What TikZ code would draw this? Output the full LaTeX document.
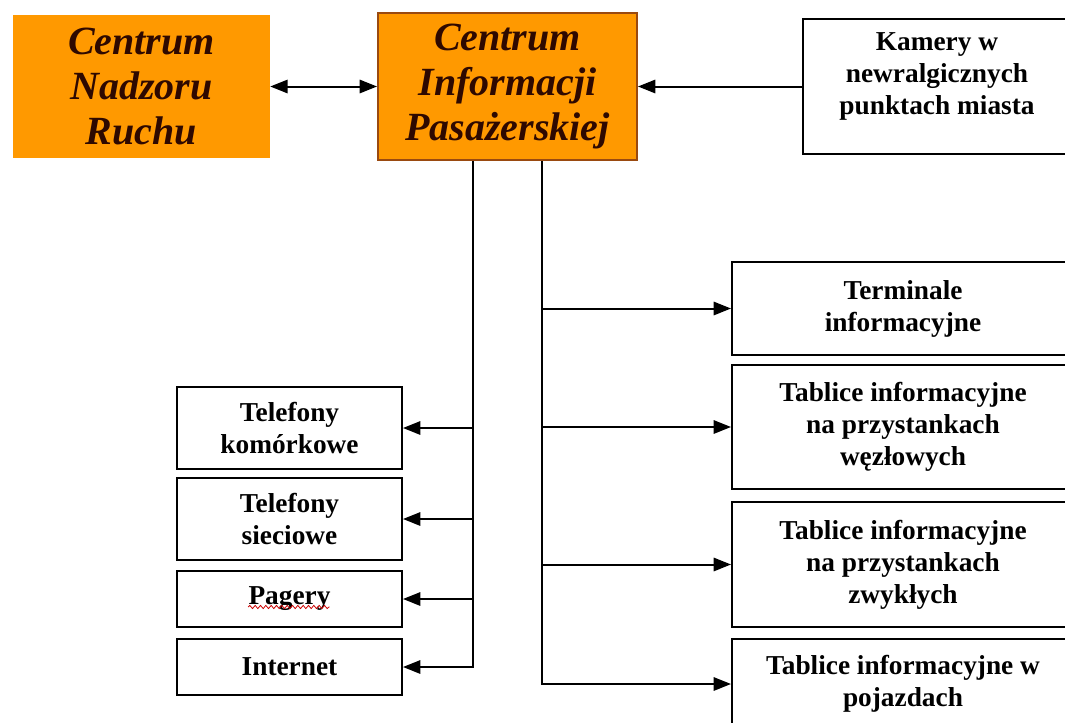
\documentclass[tikz,border=0pt]{standalone}
\usepackage{fontspec}
\setmainfont{Liberation Serif}
\usetikzlibrary{arrows.meta,decorations.pathmorphing}
\definecolor{boxorange}{HTML}{FF9900}
\definecolor{cipborder}{HTML}{9A4A10}
\definecolor{toptext}{HTML}{2E0900}
\tikzset{
  topbox/.style={rectangle, fill=boxorange, align=center, inner sep=0pt,
    font=\fontsize{30}{33.5}\selectfont\bfseries\itshape, text=toptext},
  plainbox/.style={rectangle, draw=black, line width=1.5pt, fill=white, align=center, inner sep=0pt,
    font=\fontsize{20.5}{24}\selectfont\bfseries, text=black},
  conn/.style={line width=1.5pt, draw=black},
  tip/.style={-{Triangle[length=13pt,width=10pt]}},
}
\begin{document}
\begin{tikzpicture}[x=0.75pt,y=-0.75pt]
\useasboundingbox (0,0) rectangle (1065,722);
\fill[white] (0,0) rectangle (1065,722);
\begin{scope}
\clip (0,0) rectangle (1065,722);
% top row
\node[topbox, minimum width=192.75pt, minimum height=107.25pt] (CNR) at (141.5,86.5) {Centrum\\Nadzoru\\Ruchu};
\node[topbox, draw=cipborder, line width=1.5pt, minimum width=194.25pt, minimum height=110.25pt] (CIP) at (507.5,86.5) {Centrum\\Informacji\\Pasażerskiej};
\node[plainbox, minimum width=201pt, minimum height=101.25pt] (KAM) at (937,86.5) {Kamery w\\newralgicznych\\punktach miasta\\[-4pt]\mbox{}};
% left column
\node[plainbox, minimum width=168.75pt, minimum height=61.5pt] (TK) at (289.5,428) {Telefony\\komórkowe};
\node[plainbox, minimum width=168.75pt, minimum height=61.5pt] (TS) at (289.5,519) {Telefony\\sieciowe};
\node[plainbox, minimum width=168.75pt, minimum height=42pt] (PG) at (289.5,599) {Pagery};
\node[plainbox, minimum width=168.75pt, minimum height=42pt] (IN) at (289.5,667) {Internet};
% right column
\node[plainbox, minimum width=256.5pt, minimum height=69.75pt] (TI) at (903,308.5) {Terminale\\informacyjne};
\node[plainbox, minimum width=256.5pt, minimum height=93pt] (TW) at (903,427) {Tablice informacyjne\\na przystankach\\węzłowych};
\node[plainbox, minimum width=256.5pt, minimum height=93.75pt] (TZ) at (903,564.5) {Tablice informacyjne\\na przystankach\\zwykłych};
\node[plainbox, minimum width=256.5pt, minimum height=67.5pt] (TP) at (903,684) {Tablice informacyjne w\\pojazdach};
% trunk coordinates
\coordinate (L) at (473,667);
\coordinate (R) at (542,684);
% connectors
\draw[conn, {Triangle[length=13pt,width=10pt]}-{Triangle[length=13pt,width=10pt]}] (CNR.east) -- (CIP.west);
\draw[conn, tip] (KAM.west) -- (CIP.east);
\draw[conn, tip] (CIP.south -| L) |- (IN.east);
\draw[conn, tip] (TK.east -| L) -- (TK.east);
\draw[conn, tip] (TS.east -| L) -- (TS.east);
\draw[conn, tip] (PG.east -| L) -- (PG.east);
\draw[conn, tip] (CIP.south -| R) |- (TP.west);
\draw[conn, tip] (TI.west -| R) -- (TI.west);
\draw[conn, tip] (TW.west -| R) -- (TW.west);
\draw[conn, tip] (TZ.west -| R) -- (TZ.west);
% spell-check squiggle under "Pagery"
\draw[red!80!black, line width=0.6pt, decorate, decoration={snake, amplitude=1.2pt, segment length=4pt}] ([xshift=-31pt,yshift=-6pt]PG.center) -- ([xshift=30pt,yshift=-6pt]PG.center);
\end{scope}
\end{tikzpicture}
\end{document}
